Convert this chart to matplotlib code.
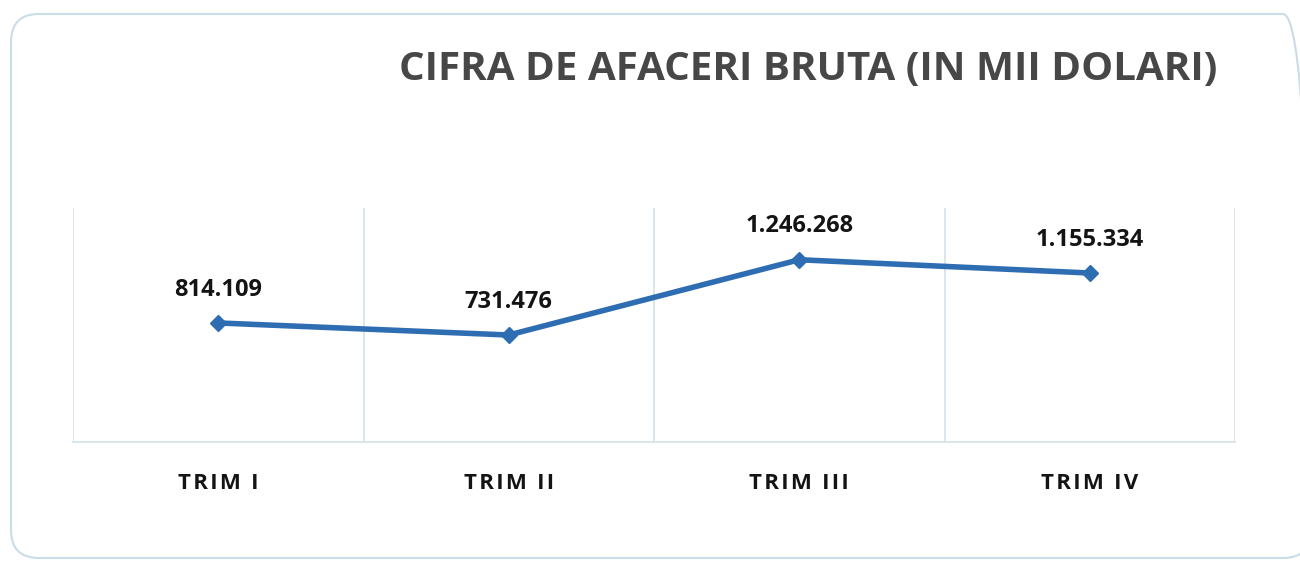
import matplotlib.pyplot as plt
from matplotlib.patches import FancyBboxPatch
import numpy as np

plt.rcParams['font.family'] = ['Open Sans', 'DejaVu Sans']

# date
trimestre = ['TRIM I', 'TRIM II', 'TRIM III', 'TRIM IV']
cifra_afaceri = [814109, 731476, 1246268, 1155334]
etichete = ['814.109', '731.476', '1.246.268', '1.155.334']

fig = plt.figure(figsize=(13, 5.65), dpi=100)

# chenar rotunjit in inch (iese in afara imaginii la dreapta)
chenar = FancyBboxPatch((0.11, 0.07), 13.0, 5.44,
                        boxstyle='round,pad=0,rounding_size=0.28',
                        transform=fig.dpi_scale_trans, facecolor='none',
                        edgecolor='#cadce5', linewidth=1.5, zorder=-1)
fig.patches.append(chenar)

ax = fig.add_axes([73 / 1300, 1 - 442 / 565, (1235 - 73) / 1300, (442 - 208) / 565])
ax.set_facecolor('none')

x = np.arange(len(trimestre))
ax.plot(x, cifra_afaceri, color='#2f6db3', linewidth=4, marker='D',
        markersize=8, solid_capstyle='round', zorder=3)

for xi, yi, txt in zip(x, cifra_afaceri, etichete):
    ax.annotate(txt, (xi, yi), xytext=(0, 24), textcoords='offset points',
                ha='center', va='center', fontsize=17, fontweight='bold',
                color='#141414')

ax.set_xlim(-0.5, len(trimestre) - 0.5)
ax.set_ylim(0, 1600000)

# grila verticala intre categorii
ax.set_xticks(x)
ax.set_xticklabels(['\u200a'.join(t) for t in trimestre], fontsize=16,
                   fontweight='bold', color='#141414')
ax.set_xticks(np.arange(-0.5, len(trimestre)), minor=True)
ax.grid(axis='x', which='minor', color='#d3e1e8', linewidth=1.2)
ax.tick_params(axis='x', which='both', length=0, pad=22)
ax.set_yticks([])

for s in ['top', 'right', 'left']:
    ax.spines[s].set_visible(False)
ax.spines['bottom'].set_color('#d3e1e8')
ax.spines['bottom'].set_linewidth(1.2)

fig.text(808 / 1300, 1 - 70 / 565, 'CIFRA DE AFACERI BRUTA (IN MII DOLARI)',
         ha='center', va='center', fontsize=29, fontweight='bold',
         color='#474747')

fig.savefig('out.png', dpi=100)
